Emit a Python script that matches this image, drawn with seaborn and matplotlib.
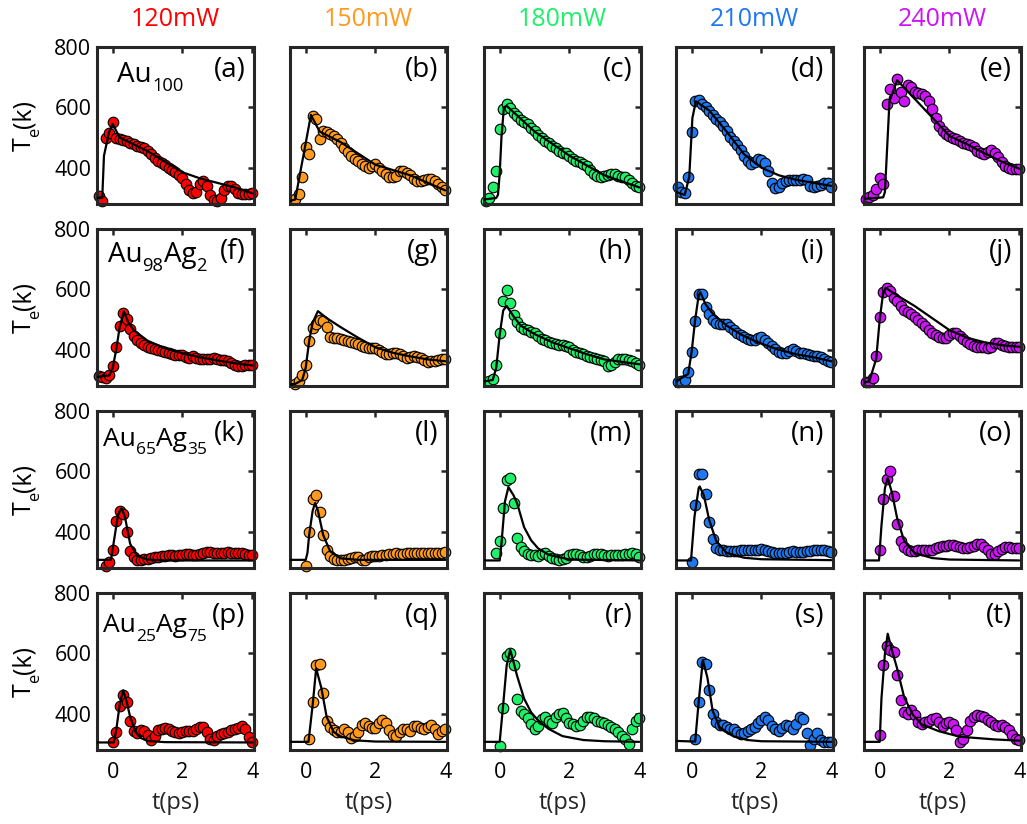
import numpy as np
import pandas as pd
import matplotlib
matplotlib.use('Agg')
import matplotlib.pyplot as plt
from matplotlib.transforms import offset_copy
import seaborn as sns

nan = np.nan

# columns = pump power, rows = alloy
powers = ['120mW', '150mW', '180mW', '210mW', '240mW']
power_colors = ['#ff0000', '#ff9a1f', '#1ff06a', '#1f78f0', '#cc14f5']
# alloy names as (text, is_subscript) pieces
alloys = [[('Au', False), ('100', True)],
          [('Au', False), ('98', True), ('Ag', False), ('2', True)],
          [('Au', False), ('65', True), ('Ag', False), ('35', True)],
          [('Au', False), ('25', True), ('Ag', False), ('75', True)]]
tags = list('abcdefghijklmnopqrst')

# delay of the measured points (ps)
t_data = [-0.4, -0.3, -0.2, -0.1, 0.0, 0.1, 0.2, 0.3, 0.4, 0.5,
          0.6, 0.7, 0.8, 0.9, 1.0, 1.1, 1.2, 1.3, 1.4, 1.5,
          1.6, 1.7, 1.8, 1.9, 2.0, 2.1, 2.2, 2.3, 2.4, 2.5,
          2.6, 2.7, 2.8, 2.9, 3.0, 3.1, 3.2, 3.3, 3.4, 3.5,
          3.6, 3.7, 3.8, 3.9, 4.0]

# measured electron temperature (K), one list per panel
te_a = [305, 290, 500, 515, 550, 500, 495, 492, 488, 482, 478, 472, 468, 464, 455,
        445, 432, 423, 415, 408, 400, 392, 385, 376, 365, 345, 325, 315, 320, 345,
        356, 340, 310, 292, 290, 300, 325, 340, 338, 330, 318, 312, 312, 312, 315]
te_b = [nan, 297, 313, 370, 470, 445, 570, 560, 495, 522, 518, 512, 505, 495, 482,
        467, 452, 438, 430, 422, 412, 405, 398, 405, 412, 400, 390, 380, 370, 368,
        372, 388, 390, 383, 375, 362, 357, 356, 358, 362, 364, 357, 345, 335, 325]
te_c = [291, 300, 335, 390, 530, 595, 610, 598, 582, 570, 558, 552, 545, 533, 522,
        508, 498, 490, 482, 473, 465, 455, 450, 450, 440, 430, 424, 418, 412, 406,
        392, 380, 372, 368, 372, 376, 380, 378, 372, 370, 368, 360, 348, 340, 336]
te_d = [336, 320, 318, 370, 520, 620, 625, 610, 600, 588, 575, 563, 550, 538, 522,
        502, 488, 475, 460, 438, 422, 414, 420, 430, 425, 415, 390, 350, 332, 335,
        350, 356, 358, 358, 358, 358, 362, 358, 340, 335, 338, 342, 348, 350, 337]
te_e = [297, 303, 310, 330, 365, 345, 610, 660, 630, 695, 650, 620, 675, 668, 652,
        648, 645, 638, 622, 595, 565, 538, 522, 513, 505, 500, 494, 488, 483, 478,
        475, 468, 455, 448, 447, 452, 458, 450, 435, 420, 405, 398, 396, 396, 397]
te_f = [312, 310, 308, 318, 345, 410, 480, 522, 502, 470, 445, 433, 424, 415, 410,
        405, 402, 399, 396, 393, 390, 387, 384, 384, 383, 376, 373, 378, 374, 369,
        368, 368, 371, 373, 370, 367, 365, 362, 356, 350, 346, 347, 350, 350, 350]
te_g = [nan, 287, 298, 315, 351, 428, 472, 487, 497, 494, 476, 442, 440, 439, 437,
        434, 430, 427, 422, 418, 414, 410, 407, 406, 405, 400, 394, 387, 385, 388,
        388, 385, 380, 374, 376, 379, 376, 372, 365, 361, 362, 364, 367, 368, 368]
te_h = [nan, 298, 302, 350, 455, 560, 598, 555, 515, 492, 476, 470, 465, 460, 454,
        445, 437, 431, 426, 423, 420, 417, 415, 412, 410, 400, 392, 390, 387, 381,
        376, 373, 370, 367, 362, 346, 350, 358, 368, 370, 368, 365, 362, 356, 350]
te_i = [294, 298, 300, 327, 393, 495, 586, 585, 542, 518, 497, 490, 487, 487, 486,
        475, 464, 456, 448, 442, 437, 434, 432, 438, 442, 434, 424, 412, 402, 393,
        388, 390, 395, 403, 396, 388, 388, 387, 384, 381, 378, 375, 370, 364, 360]
te_j = [294, 294, 305, 380, 510, 590, 606, 594, 573, 560, 546, 533, 525, 518, 510,
        500, 489, 478, 466, 457, 448, 442, 438, 438, 448, 457, 455, 447, 437, 426,
        418, 412, 410, 410, 409, 406, 410, 422, 424, 417, 413, 410, 410, 410, 410]
te_k = [nan, nan, 288, 300, 340, 435, 468, 458, 400, 335, 316, 307, 308, 309, 311,
        313, 315, 317, 319, 321, 323, 322, 320, 322, 323, 325, 325, 323, 324, 326,
        330, 333, 332, 331, 330, 329, 331, 333, 330, 329, 331, 330, 327, 324, 324]
te_l = [nan, nan, nan, nan, 288, 400, 510, 522, 465, 390, 338, 320, 310, 308, 307,
        307, 309, 312, 316, 316, 305, 306, 316, 319, 320, 321, 323, 324, 326, 328,
        330, 328, 327, 330, 331, 331, 330, 329, 330, 331, 330, 329, 330, 331, 332]
te_m = [nan, nan, nan, 329, 370, 480, 572, 578, 495, 378, 350, 335, 328, 324, 322,
        321, 325, 329, 320, 313, 309, 307, 310, 314, 322, 328, 326, 323, 318, 316,
        320, 325, 328, 328, 324, 321, 323, 324, 324, 324, 326, 327, 329, 325, 316]
te_n = [nan, nan, nan, nan, 300, 490, 590, 590, 526, 433, 375, 345, 341, 340, 337,
        335, 335, 336, 338, 340, 339, 338, 339, 340, 342, 340, 337, 333, 330, 329,
        329, 331, 334, 335, 333, 333, 334, 336, 337, 338, 338, 338, 338, 335, 332]
te_o = [nan, nan, nan, nan, 340, 510, 575, 600, 520, 425, 370, 348, 338, 335, 337,
        338, 339, 340, 340, 341, 346, 350, 352, 354, 356, 356, 352, 348, 346, 346,
        349, 353, 358, 358, 350, 338, 326, 328, 336, 344, 350, 350, 347, 346, 345]
te_p = [nan, nan, nan, nan, 305, 340, 425, 462, 440, 375, 342, 336, 346, 342, 330,
        312, 328, 345, 350, 354, 350, 344, 340, 337, 340, 343, 343, 344, 350, 355,
        357, 340, 316, 313, 325, 333, 336, 340, 345, 349, 353, 358, 350, 322, 305]
te_q = [nan, nan, nan, nan, nan, 318, 440, 560, 566, 470, 375, 355, 346, 341, 340,
        348, 338, 320, 325, 340, 362, 369, 361, 352, 352, 368, 380, 370, 346, 330,
        328, 340, 350, 350, 342, 358, 360, 352, 348, 356, 362, 348, 332, 342, 348]
te_r = [nan, nan, nan, nan, 293, 420, 590, 600, 560, 450, 410, 400, 385, 366, 348,
        360, 382, 390, 376, 368, 390, 399, 402, 385, 369, 365, 361, 362, 375, 390,
        390, 385, 376, 372, 368, 364, 356, 348, 340, 328, 315, 300, 350, 375, 385]
te_s = [nan, nan, nan, nan, nan, 318, 440, 570, 565, 480, 400, 372, 364, 362, 356,
        348, 348, 338, 334, 336, 342, 349, 357, 368, 380, 390, 378, 360, 349, 342,
        352, 362, 360, 350, 365, 388, 382, 335, 295, 316, 336, 312, 308, 307, 305]
te_t = [nan, nan, nan, nan, 331, 560, 625, 610, 604, 530, 445, 405, 398, 412, 395,
        372, 367, 372, 377, 382, 385, 372, 360, 368, 372, 366, 345, 305, 318, 345,
        375, 390, 396, 394, 388, 380, 372, 362, 360, 362, 356, 346, 330, 316, 312]

# model curves (black lines)
tfit_a = [-0.45, -0.3, -0.25, -0.1, 0.0, 0.2, 1.0, 2.0, 2.5, 3.0, 3.5, 4.0]
fit_a = [300, 300, 440, 520, 545, 500, 455, 385, 365, 350, 335, 315]
tfit_b = [-0.45, -0.3, 0.15, 0.4, 1.0, 2.0, 3.0, 4.0]
fit_b = [290, 295, 575, 520, 485, 410, 375, 325]
tfit_c = [-0.45, -0.1, -0.05, 0.0, 0.05, 0.12, 0.2, 1.0, 2.0, 3.0, 4.0]
fit_c = [295, 300, 310, 380, 500, 600, 605, 520, 440, 375, 335]
tfit_d = [-0.45, -0.2, -0.07, 0.02, 0.12, 0.5, 1.0, 1.5, 2.0, 2.5, 3.0, 3.5, 4.0]
fit_d = [320, 310, 370, 565, 620, 590, 520, 445, 400, 375, 360, 350, 340]
tfit_e = [-0.45, 0.1, 0.15, 0.28, 0.5, 1.6, 2.0, 2.5, 3.0, 3.5, 4.0]
fit_e = [297, 302, 320, 620, 690, 555, 505, 478, 448, 420, 397]
tfit_f = [-0.45, -0.1, 0.0, 0.1, 0.2, 0.32, 0.45, 0.6, 1.0, 1.5, 2.0, 2.5, 3.0, 3.5, 4.0]
fit_f = [310, 315, 340, 400, 475, 527, 490, 465, 430, 405, 388, 375, 365, 355, 348]
tfit_g = [-0.45, -0.3, -0.1, 0.0, 0.1, 0.2, 0.35, 0.6, 1.0, 1.5, 2.0, 2.5, 3.0, 3.5, 4.0]
fit_g = [285, 287, 300, 340, 430, 490, 528, 505, 475, 440, 408, 390, 378, 368, 362]
tfit_h = [-0.45, -0.2, -0.1, 0.0, 0.1, 0.2, 0.4, 0.6, 1.0, 1.5, 2.0, 2.5, 3.0, 3.5, 4.0]
fit_h = [295, 300, 340, 450, 530, 545, 510, 480, 452, 425, 405, 385, 368, 360, 352]
tfit_i = [-0.45, -0.1, 0.0, 0.1, 0.2, 0.25, 0.4, 0.6, 1.0, 1.5, 2.0, 2.5, 3.0, 3.5, 4.0]
fit_i = [295, 320, 395, 500, 580, 590, 550, 520, 480, 445, 420, 400, 385, 375, 362]
tfit_j = [-0.45, -0.3, -0.1, 0.0, 0.1, 0.17, 0.5, 1.0, 1.5, 2.0, 2.5, 3.0, 3.5, 4.0]
fit_j = [292, 295, 370, 500, 590, 605, 580, 545, 505, 465, 440, 425, 415, 410]
tfit_k = [-0.45, -0.05, 0.05, 0.15, 0.25, 0.35, 0.5, 0.7, 1.0, 1.5, 4.0]
fit_k = [307, 307, 380, 455, 478, 450, 360, 320, 308, 305, 305]
tfit_l = [-0.45, 0.0, 0.05, 0.1, 0.2, 0.27, 0.35, 0.5, 0.7, 1.0, 1.5, 4.0]
fit_l = [307, 307, 330, 390, 470, 495, 470, 390, 335, 312, 307, 307]
tfit_m = [-0.45, 0.0, 0.05, 0.15, 0.25, 0.4, 0.5, 0.7, 0.9, 1.1, 1.4, 2.0, 4.0]
fit_m = [305, 305, 360, 500, 548, 520, 494, 415, 372, 345, 324, 308, 305]
tfit_n = [-0.45, -0.02, 0.08, 0.2, 0.23, 0.35, 0.5, 0.7, 1.0, 1.5, 2.0, 4.0]
fit_n = [305, 305, 450, 545, 550, 520, 440, 370, 330, 314, 309, 306]
tfit_o = [-0.45, -0.02, 0.05, 0.15, 0.23, 0.35, 0.5, 0.7, 1.0, 1.5, 2.0, 4.0]
fit_o = [305, 305, 420, 545, 578, 530, 445, 370, 330, 313, 308, 305]
tfit_p = [-0.45, 0.03, 0.1, 0.2, 0.3, 0.4, 0.5, 0.65, 0.8, 1.0, 1.5, 4.0]
fit_p = [305, 305, 345, 430, 478, 440, 390, 340, 320, 310, 306, 305]
tfit_q = [-0.45, 0.08, 0.2, 0.3, 0.45, 0.6, 0.8, 1.0, 1.4, 2.0, 4.0]
fit_q = [307, 307, 430, 550, 485, 390, 340, 325, 312, 308, 307]
tfit_r = [-0.45, 0.0, 0.1, 0.2, 0.3, 0.4, 0.5, 0.7, 0.9, 1.1, 1.4, 1.8, 2.4, 3.0, 4.0]
fit_r = [307, 307, 430, 560, 612, 570, 525, 450, 405, 378, 350, 326, 313, 309, 307]
tfit_s = [-0.45, 0.1, 0.2, 0.32, 0.45, 0.6, 0.8, 1.2, 1.6, 2.0, 4.0]
fit_s = [310, 308, 440, 578, 520, 410, 355, 325, 313, 309, 307]
tfit_t = [-0.45, 0.0, 0.05, 0.15, 0.23, 0.35, 0.5, 0.7, 0.95, 1.2, 1.7, 2.3, 3.3, 4.0]
fit_t = [307, 307, 450, 600, 665, 610, 550, 455, 397, 365, 342, 324, 315, 311]

te_all = [te_a, te_b, te_c, te_d, te_e, te_f, te_g, te_h, te_i, te_j,
          te_k, te_l, te_m, te_n, te_o, te_p, te_q, te_r, te_s, te_t]
tfit_all = [tfit_a, tfit_b, tfit_c, tfit_d, tfit_e, tfit_f, tfit_g, tfit_h, tfit_i, tfit_j,
            tfit_k, tfit_l, tfit_m, tfit_n, tfit_o, tfit_p, tfit_q, tfit_r, tfit_s, tfit_t]
fit_all = [fit_a, fit_b, fit_c, fit_d, fit_e, fit_f, fit_g, fit_h, fit_i, fit_j,
           fit_k, fit_l, fit_m, fit_n, fit_o, fit_p, fit_q, fit_r, fit_s, fit_t]

sns.set_theme(style='white')
plt.rcParams['font.family'] = ['Open Sans', 'DejaVu Sans']

FW, FH, DPI = 1027, 824, 100
fig = plt.figure(figsize=(FW / DPI, FH / DPI), dpi=DPI)
renderer = fig.canvas.get_renderer()


def rich_text(x, y, parts, base, size, vertical=False, center=False):
    # text with real subscripts: each piece placed after the previous one
    def make(s, sub, adv):
        fs = size * 0.66 if sub else size
        drop = 0.32 * size * DPI / 72 if sub else 0.0
        if vertical:
            tr = offset_copy(base, fig=fig, x=drop, y=adv, units='dots')
        else:
            tr = offset_copy(base, fig=fig, x=adv, y=-drop, units='dots')
        return fig.text(x, y, s, transform=tr, fontsize=fs, ha='left', va='baseline',
                        rotation=90 if vertical else 0, rotation_mode='anchor', color='black')

    sizes = []
    for s, sub in parts:
        t = make(s, sub, 0)
        bb = t.get_window_extent(renderer)
        sizes.append(bb.height if vertical else bb.width)
        t.remove()
    adv = -sum(sizes) / 2 if center else 0.0
    for (s, sub), w in zip(parts, sizes):
        make(s, sub, adv)
        adv += w


col_left = [97, 290, 484, 676, 864]
W, H = 157, 157
row_top = [47, 229, 411, 593]
frame = '#262626'
# where the alloy name sits in each row (axes fraction)
alloy_pos = [(0.13, 0.775), (0.07, 0.79), (0.04, 0.78), (0.04, 0.75)]
alloy_size = [20, 20, 19, 19]

for r in range(4):
    for c in range(5):
        k = r * 5 + c
        ax = fig.add_axes([col_left[c] / FW, 1 - (row_top[r] + H) / FH, W / FW, H / FH])
        pts = pd.DataFrame({'t': t_data, 'Te': te_all[k]}).dropna()
        sns.scatterplot(data=pts, x='t', y='Te', ax=ax, color=power_colors[c], s=58,
                        edgecolor='black', linewidth=0.8, zorder=2, clip_on=False, legend=False)
        fit = pd.DataFrame({'t': tfit_all[k], 'Te': fit_all[k]})
        sns.lineplot(data=fit, x='t', y='Te', ax=ax, color='black', lw=1.6,
                     sort=False, estimator=None, zorder=3)
        ax.set_xlim(-0.45, 4.05)
        ax.set_ylim(280, 800)
        ax.set_xticks([0, 2, 4])
        ax.set_yticks([400, 600, 800])
        ax.set_xlabel('')
        ax.set_ylabel('')
        ax.tick_params(direction='in', length=4, width=1.8, color=frame, top=True, right=True,
                       labelsize=15.5, labelcolor='black')
        ax.tick_params(axis='x', pad=9)
        ax.tick_params(axis='y', pad=4)
        if c > 0:
            ax.tick_params(labelleft=False)
        if r < 3:
            ax.tick_params(labelbottom=False)
        for s in ax.spines.values():
            s.set_linewidth(2.2)
            s.set_color(frame)
        ax.text(0.945, 0.94, '(%s)' % tags[k], transform=ax.transAxes, ha='right', va='top',
                fontsize=20, color='black')
        if c == 0:
            rich_text(alloy_pos[r][0], alloy_pos[r][1], alloys[r], ax.transAxes, alloy_size[r])
            rich_text(31 / FW, 1 - (row_top[r] + H / 2) / FH, [('T', False), ('e', True), ('(k)', False)],
                      fig.transFigure, 18, vertical=True, center=True)
        if r == 0:
            fig.text((col_left[c] + W / 2) / FW, 1 - 19 / FH, powers[c], ha='center',
                     va='center', fontsize=18, color=power_colors[c])
        if r == 3:
            fig.text((col_left[c] + W / 2) / FW, 1 - 803 / FH, 't(ps)', ha='center',
                     va='center', fontsize=17)

fig.savefig('out.png', dpi=DPI)
